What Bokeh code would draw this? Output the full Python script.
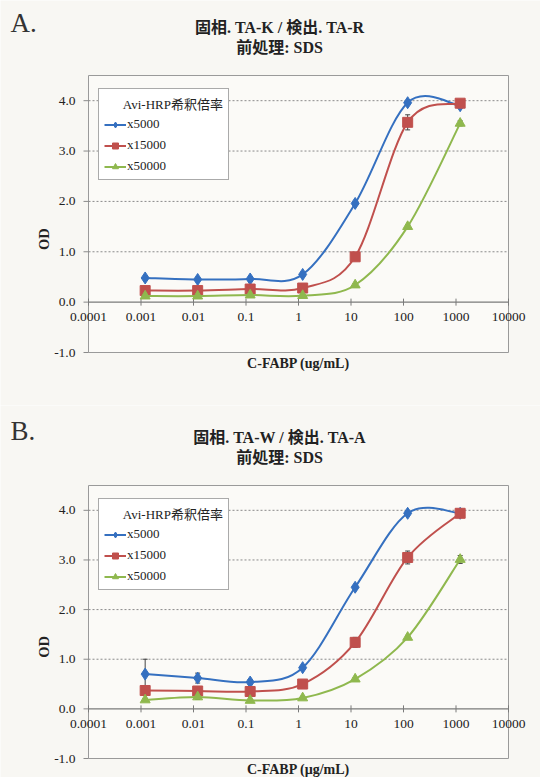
import numpy as np
from bokeh.plotting import figure
from bokeh.models import (Range1d, ColumnDataSource, Legend, LegendItem, Label, LabelSet)
from bokeh.layouts import column
from bokeh.core.properties import value
from bokeh.embed import file_html
from bokeh.resources import INLINE

# ---------------- data ----------------
conc = [0.0012, 0.012, 0.12, 1.2, 12, 120, 1200]
x_ticks = [1e-4, 1e-3, 1e-2, 1e-1, 1, 10, 100, 1000, 10000]
x_tick_labels = ["0.0001", "0.001", "0.01", "0.1", "1", "10", "100", "1000", "10000"]
y_ticks = [-1, 0, 1, 2, 3, 4]
y_tick_labels = ["-1.0", "0.0", "1.0", "2.0", "3.0", "4.0"]
grid_levels = [1, 2, 3, 4]
series_names = ["x5000", "x15000", "x50000"]
legend_title = "Avi-HRP希釈倍率"
y_label = "OD"

a_title1 = "固相. TA-K / 検出. TA-R"
a_title2 = "前処理: SDS"
a_xlabel = "C-FABP (ug/mL)"
a_x5000 = [0.48, 0.45, 0.46, 0.55, 1.96, 3.96, 3.90]
a_x15000 = [0.23, 0.23, 0.26, 0.28, 0.90, 3.57, 3.95]
a_x50000 = [0.12, 0.12, 0.14, 0.13, 0.34, 1.50, 3.55]
a_err5000 = [0.02, 0.02, 0.02, 0.03, 0.03, 0.03, 0.03]
a_err15000 = [0.02, 0.02, 0.02, 0.02, 0.04, 0.15, 0.03]
a_err50000 = [0.02, 0.02, 0.02, 0.02, 0.03, 0.04, 0.05]

b_title1 = "固相. TA-W / 検出. TA-A"
b_title2 = "前処理: SDS"
b_xlabel = "C-FABP (µg/mL)"
b_x5000 = [0.70, 0.62, 0.54, 0.83, 2.45, 3.94, 3.94]
b_x15000 = [0.37, 0.36, 0.35, 0.50, 1.34, 3.05, 3.94]
b_x50000 = [0.18, 0.24, 0.17, 0.22, 0.60, 1.44, 3.01]
b_err5000 = [0.30, 0.10, 0.05, 0.03, 0.03, 0.03, 0.03]
b_err15000 = [0.02, 0.02, 0.02, 0.03, 0.10, 0.13, 0.03]
b_err50000 = [0.03, 0.05, 0.02, 0.02, 0.03, 0.04, 0.08]

colors = ["#3570C0", "#C0504D", "#8FB84E"]
markers = ["diamond", "square", "triangle"]
msizes = [12, 10, 10]

# plot-area limits (data) and layout (px)
X_LO, X_HI = 1e-4, 1e4
Y_LO, Y_HI = -1.0, 4.5
W = 540
PL, PR = 88, 508

BG = "#f8f7f3"
INK = "#222222"
AXC = "#8a8a8a"
ERRC = "#444444"
FONT = "'Liberation Serif', 'Noto Sans CJK JP', serif"
SERIF = value(FONT)


def smooth_segments(xs, ys):
    """Excel-like smoothed line: cubic Bezier segments in (log10 x, y) space."""
    lx = np.log10(np.asarray(xs, dtype=float))
    yy = np.asarray(ys, dtype=float)
    n = len(lx)
    out = dict(x0=[], y0=[], x1=[], y1=[], cx0=[], cy0=[], cx1=[], cy1=[])
    for i in range(n - 1):
        im, i2 = max(i - 1, 0), min(i + 2, n - 1)
        c0x = lx[i] + (lx[i + 1] - lx[im]) / 6.0
        c0y = yy[i] + (yy[i + 1] - yy[im]) / 6.0
        c1x = lx[i + 1] - (lx[i2] - lx[i]) / 6.0
        c1y = yy[i + 1] - (yy[i2] - yy[i]) / 6.0
        out["x0"].append(10 ** lx[i]); out["y0"].append(yy[i])
        out["x1"].append(10 ** lx[i + 1]); out["y1"].append(yy[i + 1])
        out["cx0"].append(10 ** c0x); out["cy0"].append(c0y)
        out["cx1"].append(10 ** c1x); out["cy1"].append(c1y)
    return out


def make_panel(letter, title1, title2, xlabel, series, errs, height, top, bottom,
               legend_top, letter_up):
    # whole figure is the frame; plot area placed inside by range extension
    ldx = np.log10(X_HI) - np.log10(X_LO)
    ppd = (PR - PL) / ldx
    xr = Range1d(10 ** (np.log10(X_LO) - PL / ppd), 10 ** (np.log10(X_HI) + (W - PR) / ppd))
    ppu = (height - top - bottom) / (Y_HI - Y_LO)
    yr = Range1d(Y_LO - bottom / ppu, Y_HI + top / ppu)
    tick_len = 10 ** (5 / ppd)

    p = figure(width=W, height=height, x_axis_type="log", x_range=xr, y_range=yr,
               output_backend="svg", toolbar_location=None,
               min_border=0, background_fill_color=BG, border_fill_color=BG)
    p.title.visible = False
    p.axis.visible = False
    p.grid.visible = False
    p.outline_line_color = None

    # plot area
    p.quad(left=[X_LO], right=[X_HI], bottom=[Y_LO], top=[Y_HI],
           fill_color="#fbfaf7", line_color="#9a9a9a", line_width=1)
    # horizontal dotted gridlines
    p.segment(x0=[X_LO] * len(grid_levels), x1=[X_HI] * len(grid_levels),
              y0=grid_levels, y1=grid_levels, line_color=AXC, line_width=1,
              line_dash="2 2")
    # y axis ticks + labels
    p.segment(x0=[X_LO / tick_len] * len(y_ticks), x1=[X_LO] * len(y_ticks),
              y0=y_ticks, y1=y_ticks, line_color=AXC, line_width=1)
    ysrc = ColumnDataSource(dict(x=[X_LO] * len(y_ticks), y=y_ticks, text=y_tick_labels))
    p.add_layout(LabelSet(x="x", y="y", text="text", source=ysrc, x_offset=-13,
                          text_align="right", text_baseline="middle",
                          text_font=SERIF, text_font_size=value("13.5px"),
                          text_color=INK))
    p.add_layout(Label(x=X_LO, y=(Y_LO + Y_HI) / 2 - 0.5, text=y_label, x_offset=-45,
                       angle=np.pi / 2, text_align="center", text_baseline="middle",
                       text_font=FONT, text_font_style="bold", text_font_size="14.5px",
                       text_color=INK))

    # zero axis line with ticks and labels
    p.segment(x0=[X_LO], x1=[X_HI], y0=[0], y1=[0], line_color="#7a7a7a", line_width=1.3)
    p.scatter(x=x_ticks, y=[0] * len(x_ticks), marker="dash", angle=np.pi / 2,
              size=7, line_color="#7a7a7a", line_width=1)
    tsrc = ColumnDataSource(dict(x=x_ticks, y=[0] * len(x_ticks), text=x_tick_labels))
    p.add_layout(LabelSet(x="x", y="y", text="text", source=tsrc, y_offset=-11,
                          text_align="center", text_baseline="top",
                          text_font=SERIF, text_font_size=value("13.5px"),
                          text_color=INK))

    xc = 10 ** ((np.log10(X_LO) + np.log10(X_HI)) / 2)
    # x axis title
    p.add_layout(Label(x=xc, y=Y_LO, text=xlabel, y_offset=-11, text_align="center",
                       text_baseline="middle", text_font=FONT, text_font_style="bold",
                       text_font_size="14px", text_color=INK))

    # panel letter
    p.add_layout(Label(x=X_LO, y=Y_HI, text=letter, x_offset=-78, y_offset=letter_up,
                       text_align="left", text_baseline="middle",
                       text_font="Liberation Serif", text_font_size="27px",
                       text_color="#333333"))

    # titles
    p.add_layout(Label(x=xc, y=Y_HI, text=title1, x_offset=-19, y_offset=48,
                       text_align="center", text_baseline="middle", text_font=FONT,
                       text_font_style="bold", text_font_size="16px", text_color=INK))
    p.add_layout(Label(x=xc, y=Y_HI, text=title2, x_offset=-19, y_offset=28,
                       text_align="center", text_baseline="middle", text_font=FONT,
                       text_font_style="bold", text_font_size="16px", text_color=INK))

    items = []
    for name, ys, er, col, mk, ms in zip(series_names, series, errs, colors, markers, msizes):
        lower = [v - e for v, e in zip(ys, er)]
        upper = [v + e for v, e in zip(ys, er)]
        # error bars (drawn beneath the curve and markers)
        p.segment(x0=conc, x1=conc, y0=lower, y1=upper, line_color=ERRC, line_width=1)
        p.scatter(x=conc + conc, y=lower + upper, marker="dash", size=5,
                  line_color=ERRC, line_width=1)
        seg = ColumnDataSource(smooth_segments(conc, ys))
        p.bezier(x0="x0", y0="y0", x1="x1", y1="y1", cx0="cx0", cy0="cy0",
                 cx1="cx1", cy1="cy1", source=seg, line_color=col, line_width=2)
        leg_line = p.line(x=[np.nan], y=[np.nan], line_color=col, line_width=2)
        sc = p.scatter(x=conc, y=ys, marker=mk, size=ms, fill_color=col,
                       line_color=col)
        items.append(LegendItem(label=name, renderers=[leg_line, sc]))

    legend = Legend(items=items, location=(PL + 10, height - legend_top - 85),
                    title="      " + legend_title)
    legend.title_text_font = FONT
    legend.title_text_font_size = "13px"
    legend.title_text_font_style = "normal"
    legend.title_text_color = INK
    legend.title_standoff = 3
    legend.label_text_font = FONT
    legend.label_text_font_size = "13px"
    legend.label_text_color = INK
    legend.label_standoff = 1
    legend.label_height = 15
    legend.glyph_width = 22
    legend.glyph_height = 15
    legend.spacing = 5
    legend.padding = 5
    legend.margin = 0
    legend.border_line_color = "#555555"
    legend.border_line_width = 1
    legend.background_fill_color = "white"
    legend.background_fill_alpha = 1.0
    p.add_layout(legend)
    return p


pA = make_panel("A.", a_title1, a_title2, a_xlabel,
                [a_x5000, a_x15000, a_x50000], [a_err5000, a_err15000, a_err50000],
                height=405, top=75, bottom=53, legend_top=95, letter_up=53)
pB = make_panel("B.", b_title1, b_title2, b_xlabel,
                [b_x5000, b_x15000, b_x50000], [b_err5000, b_err15000, b_err50000],
                height=372, top=80, bottom=19, legend_top=100, letter_up=55)

layout = column(pA, pB, spacing=0)
open("out.html", "w").write(file_html(layout, INLINE))
